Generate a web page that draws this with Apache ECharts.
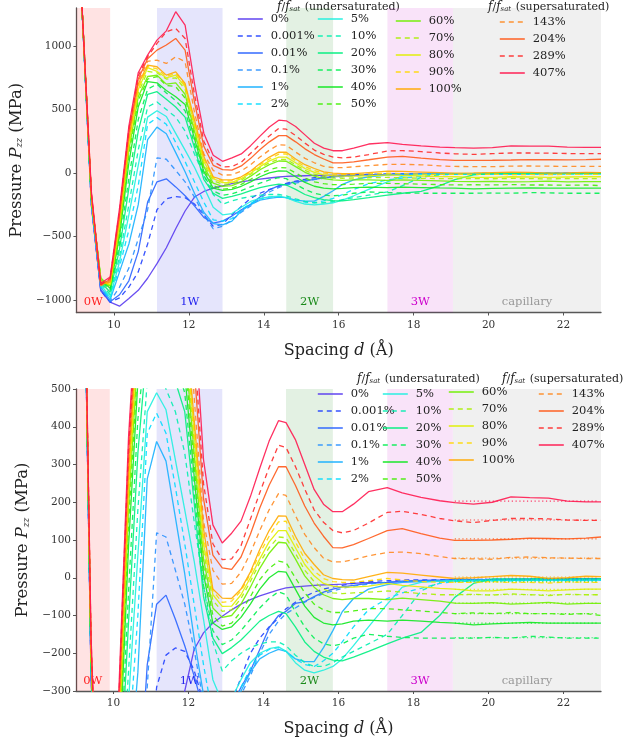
<!DOCTYPE html>
<html><head><meta charset="utf-8">
<script src="https://cdn.jsdelivr.net/npm/echarts@6/dist/echarts.min.js"></script>
<style>html,body{margin:0;padding:0;background:#fff}#c{width:632px;height:738px}</style>
</head><body><div id="c"></div>
<script>
const F = 'DejaVu Serif';
// Spacing d (Å)
const spacing = [9.1, 9.4, 9.65, 9.9, 10.15, 10.4, 10.65, 10.9, 11.15, 11.4, 11.65, 11.9, 12.15, 12.4, 12.65, 12.9,
  13.15, 13.4, 13.65, 13.9, 14.15, 14.4, 14.6, 14.85, 15.1, 15.35, 15.6, 15.85,
  16.1, 16.4, 16.8, 17.3, 17.7, 18.2, 18.7, 19.1, 19.6, 20.1, 20.6, 21.1, 21.6, 22.1, 22.6, 23.0];
const labels = ['0%','0.001%','0.01%','0.1%','1%','2%','5%','10%','20%','30%','40%','50%','60%','70%','80%','90%','100%','143%','204%','289%','407%'];
const colors = ['#5a3cf0','#2040ff','#2a64ff','#2890ff','#18b0ff','#00dcff','#20f0e0','#00f0b0','#00f080','#00f050','#10e820','#40f000','#70f000','#a8f000','#e0f000','#ffd800','#ffaa00','#ff8a20','#ff5a1a','#ff2a2a','#ff1a50'];
// Pressure P_zz (MPa) per saturation
const p0   = [1600,-260,-930,-1018,-1050,-990,-925,-830,-715,-590,-440,-300,-190,-146,-120,-102,-85,-70,-58,-48,-40,-32,-27,-24,-22,-20,-19,-18,-17,-15,-13,-12,-10,-9,-8,-7,-6,-6,-5,-5,-5,-4,-4,-4];
const p1   = [1600,-250,-925,-1020,-985,-900,-780,-560,-290,-205,-186,-195,-245,-330,-420,-405,-330,-264,-200,-160,-130,-107,-82,-65,-50,-38,-30,-25,-20,-15,-10,-8,-6,-6,-5,-5,-5,-4,-5,-4,-4,-4,-3,-3];
const p2   = [1600,-250,-920,-1015,-960,-850,-620,-230,-70,-46,-110,-180,-260,-350,-395,-380,-340,-290,-247,-190,-133,-100,-89,-68,-63,-50,-38,-30,-24,-20,-15,-12,-9,-7,-6,-5,-5,-5,-4,-4,-4,-4,-3,-3];
const p3   = [1600,-240,-910,-1010,-900,-750,-520,-290,119,108,20,-70,-190,-330,-440,-420,-370,-310,-260,-200,-150,-115,-95,-80,-65,-52,-42,-35,-28,-22,-17,-12,-10,-8,-7,-6,-6,-5,-5,-5,-4,-4,-4,-4];
const p4   = [1600,-240,-900,-1000,-780,-560,-250,262,361,309,160,10,-160,-310,-400,-410,-380,-300,-250,-215,-200,-190,-195,-215,-222,-222,-185,-140,-90,-55,-30,-18,-12,-10,-9,-8,-8,-7,-7,-7,-6,-6,-6,-6];
const p5   = [1600,-230,-890,-990,-740,-450,-100,383,436,383,240,90,-70,-230,-370,-380,-360,-290,-240,-205,-190,-185,-195,-215,-230,-235,-220,-200,-170,-130,-85,-55,-40,-28,-15,-10,-9,-8,-8,-7,-7,-7,-6,-6];
const p6   = [1600,-230,-880,-980,-700,-330,60,440,490,445,312,180,45,-110,-270,-330,-320,-270,-225,-200,-188,-183,-195,-225,-245,-252,-245,-235,-215,-180,-130,-70,-25,-12,-9,-8,-7,-7,-6,-6,-6,-5,-5,-5];
const p7   = [1600,-220,-870,-960,-660,-250,180,520,560,500,440,330,150,-20,-170,-247,-220,-200,-185,-175,-170,-170,-180,-205,-225,-235,-235,-225,-210,-195,-175,-150,-100,-35,-12,-8,-7,-6,-6,-6,-5,-5,-5,-5];
const p8   = [1600,-220,-860,-940,-600,-120,330,620,640,580,520,440,200,-50,-160,-201,-185,-165,-140,-115,-100,-89,-95,-130,-170,-195,-210,-218,-220,-210,-195,-175,-160,-145,-100,-52,-15,-3,-3,-3,-2,-3,-3,-3];
const p9   = [1600,-210,-850,-920,-560,-40,420,660,700,630,570,490,230,-20,-140,-177,-165,-140,-110,-80,-55,-37,-45,-90,-130,-160,-175,-180,-175,-160,-150,-155,-158,-160,-160,-160,-160,-158,-160,-155,-157,-160,-160,-160];
const p10  = [1600,-210,-840,-910,-500,80,520,720,710,650,600,540,270,10,-120,-137,-130,-105,-70,-30,0,17,15,-30,-75,-105,-120,-125,-122,-115,-112,-115,-112,-115,-118,-120,-125,-122,-120,-118,-120,-120,-120,-120];
const p11  = [1600,-200,-830,-900,-470,140,570,740,760,690,680,590,300,30,-100,-128,-120,-90,-50,-5,25,44,40,0,-40,-70,-85,-92,-92,-88,-82,-82,-85,-88,-92,-95,-93,-95,-92,-95,-95,-97,-95,-100];
const p12  = [1600,-200,-830,-890,-450,180,600,760,770,700,710,620,330,50,-80,-105,-100,-70,-25,25,65,94,92,50,5,-25,-45,-55,-58,-55,-55,-58,-54,-58,-62,-67,-68,-66,-70,-68,-65,-70,-68,-68];
const p13  = [1600,-200,-840,-890,-420,210,630,800,790,740,750,660,360,70,-60,-89,-85,-55,-10,40,80,108,106,65,20,-10,-30,-40,-42,-40,-38,-35,-38,-42,-45,-45,-44,-46,-43,-45,-47,-44,-45,-45];
const p14  = [1600,-190,-850,-880,-400,230,655,830,800,750,770,680,380,90,-45,-76,-75,-45,0,50,95,125,125,80,35,5,-15,-22,-25,-25,-22,-15,-20,-24,-28,-30,-35,-35,-30,-32,-35,-32,-30,-30];
const p15  = [1600,-190,-860,-870,-380,250,675,840,820,760,785,690,400,110,-35,-65,-62,-35,10,65,110,148,150,95,50,18,-2,-10,-12,-12,-8,-2,-6,-10,-12,-12,-12,-10,-13,-12,-14,-11,-12,-12];
const p16  = [1600,-180,-880,-860,-360,270,700,850,837,771,797,705,420,130,-30,-54,-55,-30,15,75,125,164,163,110,65,35,8,-2,-5,-6,3,14,12,7,2,-2,0,3,6,4,-2,0,4,3];
const p17  = [1600,-180,-890,-850,-340,300,720,880,889,863,916,876,480,150,20,-17,-15,15,65,125,180,223,218,165,115,80,52,42,42,48,58,67,68,64,56,51,50,49,54,55,53,52,51,51];
const p18  = [1600,-170,-880,-840,-320,320,740,900,968,1008,1060,968,560,210,60,26,22,55,115,185,245,294,294,245,190,145,110,80,79,88,104,125,130,117,105,99,99,100,102,105,104,103,105,108];
const p19  = [1600,-160,-880,-830,-300,345,765,915,1021,1113,1139,1060,620,250,90,48,50,85,155,225,292,351,345,295,235,180,147,125,119,125,145,173,176,168,157,151,146,152,157,157,156,153,152,152];
const p20  = [1600,-150,-870,-820,-280,370,790,929,1047,1120,1271,1166,706,313,140,92,118,150,215,290,362,416,411,366,300,234,195,175,175,195,228,239,225,213,204,199,195,200,214,212,211,203,201,201];
const values = [p0,p1,p2,p3,p4,p5,p6,p7,p8,p9,p10,p11,p12,p13,p14,p15,p16,p17,p18,p19,p20];
// capillary mean (dotted reference levels, bottom panel)
const capMean = [-5,-4,-4,-5,-7,-8,-6,-6,-10,-159,-120,-95,-67,-45,-31,-12,2,52,103,153,203];
const capRange = [19.1, 22.95];
const regionNames = ['0W','1W','2W','3W','capillary'];
const regionStart = [9, 11.15, 14.6, 17.3, 19.05];
const regionEnd   = [9.9, 12.9, 15.85, 19.05, 23];
const regionFill  = ['rgba(255,0,0,0.11)','rgba(20,20,230,0.11)','rgba(0,128,0,0.11)','rgba(200,0,200,0.11)','rgba(128,128,128,0.12)'];
const regionText  = ['#ff2020','#2222ee','#1a8a1a','#cc00cc','#999999'];
const xTicks = [10,12,14,16,18,20,22];
const yTicksTop = [-1000,-500,0,500,1000];
const col1 = ['0%','0.001%','0.01%','0.1%','1%','2%'];
const col2 = ['5%','10%','20%','30%','40%','50%'];
const col3 = ['60%','70%','80%','90%','100%'];
const col4 = ['143%','204%','289%','407%'];

const fmt = v => v < 0 ? '\u2212' + Math.abs(v) : String(v);
const subRich = (fs, sfs, pad) => ({ i:{fontStyle:'italic', fontFamily:F, fontSize:fs, color:'#222'}, s:{fontStyle:'italic', fontFamily:F, fontSize:sfs, color:'#222', padding:[pad,0,0,0]} });

function xAx(g){ return {
  type:'value', gridIndex:g, min:9, max:23,
  axisLine:{show:true, onZero:false, lineStyle:{color:'#555', width:1.3}},
  axisTick:{show:true, length:3, customValues:xTicks, lineStyle:{color:'#555'}},
  axisLabel:{customValues:xTicks, fontFamily:F, fontSize:10.5, color:'#333', margin:7},
  splitLine:{show:false},
  name:'Spacing {i|d} (Å)', nameLocation:'middle', nameGap:30,
  nameTextStyle:{fontFamily:F, fontSize:16, color:'#222', rich:subRich(16,10,6)}
};}
function yAx(g){
  const base = {
    type:'value', gridIndex:g,
    axisLine:{show:true, onZero:false, lineStyle:{color:'#555', width:1.3}},
    axisTick:{show:true, length:3, lineStyle:{color:'#555'}},
    axisLabel:{fontFamily:F, fontSize:10.5, color:'#333', margin:5, formatter:fmt},
    splitLine:{show:false},
    name:'Pressure {i|P}{s|zz} (MPa)', nameLocation:'middle', nameGap:38, nameRotate:90,
    nameTextStyle:{fontFamily:F, fontSize:16.5, color:'#222', rich:subRich(16.5,9,7)}
  };
  if (g === 0) { base.min = -1100; base.max = 1300; base.axisTick.customValues = yTicksTop; base.axisLabel.customValues = yTicksTop; }
  else { base.min = -300; base.max = 500; base.interval = 100; }
  return base;
}

const series = [];
[0,1].forEach(g => {
  series.push({
    type:'line', name:'regions'+g, xAxisIndex:g, yAxisIndex:g, data:[], z:1, silent:true,
    markArea:{ silent:true, z:1,
      label:{show:true, position:'insideBottom', distance:4, fontFamily:F, fontSize:11.5},
      data: regionNames.map((n,k) => [
        {name:n, xAxis:regionStart[k], itemStyle:{color:regionFill[k]}, label:{color:regionText[k]}},
        {xAxis:regionEnd[k]}
      ])
    }
  });
  values.forEach((vals,i) => {
    series.push({
      type:'line', name:labels[i], xAxisIndex:g, yAxisIndex:g,
      data: spacing.map((x,k) => [x, vals[k]]),
      symbol:'none', z:2, clip:true,
      lineStyle:{color:colors[i], width:1.3, opacity:0.9, type: (i % 2 === 1) ? [5,4] : 'solid'},
      itemStyle:{color:colors[i]}
    });
  });
});
values.forEach((vals,i) => {
  series.push({
    type:'line', name:labels[i]+' mean', xAxisIndex:1, yAxisIndex:1,
    data: capRange.map(x => [x, capMean[i]]),
    symbol:'none', z:3,
    lineStyle:{color:colors[i], width:1.2, opacity:0.85, type:[1.2,2.6]}
  });
});

function leg(names, left, top){ return {
  data:names, orient:'vertical', left, top, itemWidth:25, itemHeight:14, itemGap:3, padding:0,
  selectedMode:false,
  itemStyle:{opacity:0},
  lineStyle:{width:1.6},
  textStyle:{fontFamily:F, fontSize:11.5, color:'#222', lineHeight:14, padding:[0,0,0,3]}
};}
function title(txt, left, top){ return {
  type:'text', left, top,
  style:{text:'{i|f}/{i|f}{s|sat} ' + txt, fontFamily:F, fontSize:11, fill:'#222',
    rich:{ i:{fontStyle:'italic', fontFamily:F, fontSize:12, fill:'#222'}, s:{fontStyle:'italic', fontFamily:F, fontSize:7, fill:'#222', padding:[5,1,0,0]} } }
};}

const chart = echarts.init(document.getElementById('c'), null, {renderer:'canvas'});
chart.setOption({
  animation:false,
  backgroundColor:'#fff',
  grid:[{left:76, top:8, width:525, height:304.5}, {left:76, top:389, width:525, height:305}],
  xAxis:[xAx(0), xAx(1)],
  yAxis:[yAx(0), yAx(1)],
  legend:[leg(col1,237,12), leg(col2,317,12), leg(col3,395,14), leg(col4,499,15),
          leg(col1,317,387), leg(col2,382,387), leg(col3,448,385), leg(col4,538,387)],
  graphic:[title('(undersaturated)',277,1), title('(supersaturated)',488,1),
           title('(undersaturated)',357,373), title('(supersaturated)',502,373)],
  series
});
</script></body></html>
